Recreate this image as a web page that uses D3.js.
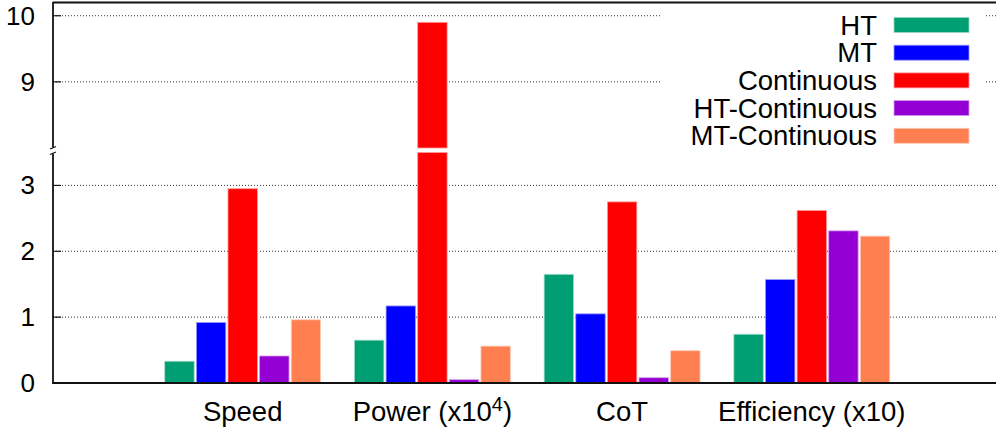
<!DOCTYPE html>
<html>
<head>
<meta charset="utf-8">
<script src="https://cdnjs.cloudflare.com/ajax/libs/d3/7.8.5/d3.min.js"></script>
<style>
  html, body { margin: 0; padding: 0; background: #fff; }
  svg { display: block; font-family: "Liberation Sans", Arial, Helvetica, sans-serif; }
</style>
</head>
<body>
<div class="container"></div>
<script>
// ---- data ----
const categories = ["Speed", "Power", "CoT", "Efficiency (x10)"];
const series = ["HT", "MT", "Continuous", "HT-Continuous", "MT-Continuous"];
const seriesColors = ["#009e73", "#0000ff", "#ff0000", "#9400d3", "#ff7f50"];
const htValues = [0.33, 0.65, 1.65, 0.74];
const mtValues = [0.92, 1.17, 1.05, 1.57];
const continuousValues = [2.95, 9.9, 2.75, 2.62];
const htContinuousValues = [0.41, 0.05, 0.08, 2.31];
const mtContinuousValues = [0.96, 0.56, 0.49, 2.23];
const lowTicks = [0, 1, 2, 3];
const highTicks = [9, 10];
const lowRange = [0, 3.5];
const highRange = [8, 10.2];

const allValues = [htValues, mtValues, continuousValues, htContinuousValues, mtContinuousValues];

const width = 996, height = 430;
const svg = d3.select(".container").append("svg")
  .attr("width", width)
  .attr("height", height);

// ---- scales ----
const left = 53, bottom = 383;
const x = d3.scaleLinear().domain([-1, 4]).range([left, left + 5 * 189.7]);
// 5 bars + 1 gap per cluster
const slot = (x(1) - x(0)) / 6;
const inner = d3.scaleBand()
  .domain(series)
  .range([-2.5 * slot, 2.5 * slot])
  .paddingInner(0.07)
  .paddingOuter(0.035);

const yLow = d3.scaleLinear().domain(lowRange).range([bottom, 152.5]);
const yHigh = d3.scaleLinear().domain(highRange).range([148, 2.5]);

const tickFont = 26;
const labelFont = 27.5;

// ---- grid (dotted) ----
const gridColor = "#333";
const gridG = svg.append("g");
lowTicks.filter(t => t > 0).forEach(t => {
  gridG.append("line")
    .attr("x1", left).attr("x2", width)
    .attr("y1", yLow(t)).attr("y2", yLow(t))
    .attr("stroke", gridColor).attr("stroke-width", 1)
    .attr("stroke-dasharray", "1,2");
});
highTicks.forEach(t => {
  gridG.append("line")
    .attr("x1", left).attr("x2", width)
    .attr("y1", yHigh(t)).attr("y2", yHigh(t))
    .attr("stroke", gridColor).attr("stroke-width", 1)
    .attr("stroke-dasharray", "1,2");
});

// ---- bars ----
const barsG = svg.append("g");
const lighten = c => d3.interpolateRgb(c, "#fff")(0.6);

series.forEach((s, si) => {
  const color = seriesColors[si];
  allValues[si].forEach((v, ci) => {
    const bx = x(ci) + inner(s);
    const bw = inner.bandwidth();
    if (v <= lowRange[1]) {
      barsG.append("rect")
        .attr("x", bx).attr("y", yLow(v))
        .attr("width", bw).attr("height", yLow(0) - yLow(v))
        .attr("fill", color)
        .attr("stroke", lighten(color)).attr("stroke-width", 0.8);
    } else {
      // broken bar: full lower part + upper part
      barsG.append("rect")
        .attr("x", bx).attr("y", yLow(lowRange[1]))
        .attr("width", bw).attr("height", yLow(0) - yLow(lowRange[1]))
        .attr("fill", color)
        .attr("stroke", lighten(color)).attr("stroke-width", 0.8);
      barsG.append("rect")
        .attr("x", bx).attr("y", yHigh(v))
        .attr("width", bw).attr("height", yHigh(highRange[0]) - yHigh(v))
        .attr("fill", color)
        .attr("stroke", lighten(color)).attr("stroke-width", 0.8);
    }
  });
});

// ---- frame / axes ----
svg.append("line").attr("x1", left).attr("x2", width).attr("y1", 2.5).attr("y2", 2.5)
  .attr("stroke", "#111").attr("stroke-width", 1.8);
svg.append("line").attr("x1", left).attr("x2", width).attr("y1", bottom).attr("y2", bottom)
  .attr("stroke", "#111").attr("stroke-width", 1.8);
svg.append("line").attr("x1", left).attr("x2", left).attr("y1", 2).attr("y2", 147.5)
  .attr("stroke", "#111").attr("stroke-width", 1.8);
svg.append("line").attr("x1", left).attr("x2", left).attr("y1", 153.5).attr("y2", bottom + 0.9)
  .attr("stroke", "#111").attr("stroke-width", 1.8);
// break marks
svg.append("line").attr("x1", 50).attr("x2", 56).attr("y1", 149).attr("y2", 146.5)
  .attr("stroke", "#111").attr("stroke-width", 1.2);
svg.append("line").attr("x1", 50).attr("x2", 56).attr("y1", 154.5).attr("y2", 152)
  .attr("stroke", "#111").attr("stroke-width", 1.2);

// tick marks and labels
const tickG = svg.append("g");
const addTick = (yy, label) => {
  tickG.append("line")
    .attr("x1", left).attr("x2", left + 8)
    .attr("y1", yy).attr("y2", yy)
    .attr("stroke", "#111").attr("stroke-width", 1.2);
  tickG.append("text")
    .attr("x", 35).attr("y", yy)
    .attr("text-anchor", "end")
    .attr("dominant-baseline", "central")
    .style("font-size", tickFont + "px")
    .text(label);
};
lowTicks.forEach(t => addTick(yLow(t), t));
highTicks.forEach(t => addTick(yHigh(t), t));

// x category labels
categories.forEach((c, ci) => {
  const t = svg.append("text")
    .attr("x", x(ci))
    .attr("y", 421)
    .attr("text-anchor", "middle")
    .style("font-size", labelFont + "px");
  if (c === "Power") {
    t.append("tspan").text("Power (x10");
    t.append("tspan").attr("dy", -10).style("font-size", "20px").text("4");
    t.append("tspan").attr("dy", 10).text(")");
  } else {
    t.text(c);
  }
});

// ---- legend (opaque key) ----
const legendG = svg.append("g");
legendG.append("rect")
  .attr("x", 661).attr("y", 5)
  .attr("width", 323).attr("height", 146)
  .attr("fill", "#fff");

series.forEach((s, si) => {
  const cy = 25 + si * 27.7;
  legendG.append("text")
    .attr("x", 877).attr("y", cy)
    .attr("text-anchor", "end")
    .attr("dominant-baseline", "central")
    .style("font-size", labelFont + "px")
    .text(s);
  legendG.append("rect")
    .attr("x", 894).attr("y", cy - 7.5)
    .attr("width", 75).attr("height", 15)
    .attr("fill", seriesColors[si])
    .attr("stroke", lighten(seriesColors[si])).attr("stroke-width", 0.8);
});
</script>
</body>
</html>
